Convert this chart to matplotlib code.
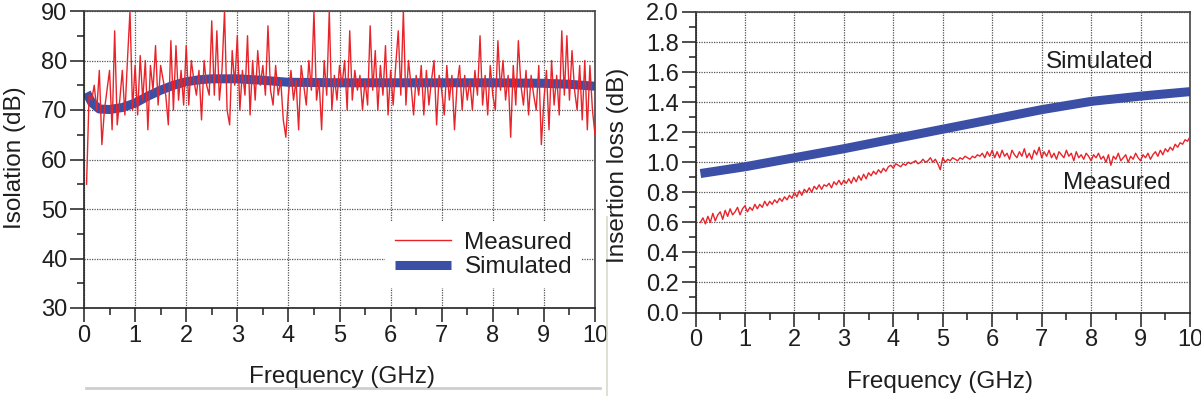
import numpy as np
import matplotlib
matplotlib.use("Agg")
import matplotlib.pyplot as plt
from matplotlib.lines import Line2D
from matplotlib.ticker import MultipleLocator, FormatStrFormatter

plt.rcParams['font.family'] = ['Liberation Sans', 'DejaVu Sans']

# ---------------- data ----------------
# Isolation: measured (every 0.05 GHz from 0.05 to 10 GHz)
iso_freq = np.round(np.arange(1, 201) * 0.05, 2)
iso_measured = [
    55, 73, 72, 75, 70, 78, 63, 70, 74, 78,
    66, 86, 67, 72, 78, 69, 80, 90, 70, 79,
    69, 81, 72, 80, 66, 79, 74, 83, 71, 79,
    76, 73, 67, 84, 70, 83, 72, 78, 71, 83,
    71, 80, 76, 73, 78, 68, 80, 75, 73, 88,
    73, 86, 72, 78, 90, 70, 67, 82, 75, 85,
    70, 78, 73, 85, 69, 80, 72, 82, 75, 79,
    73, 87, 74, 71, 79, 73, 76, 68, 64.5, 73,
    78, 72, 76, 66, 79, 75, 71, 80, 74, 90,
    72, 76, 66, 80, 73, 90, 70, 77, 72, 79,
    75, 80, 70, 86, 72, 78, 74, 77, 70, 76,
    71, 87, 74, 82, 70, 79, 73, 83, 69, 78,
    71, 79, 86, 73, 90, 71, 80, 75, 69, 77,
    73, 79, 69, 78, 71, 76, 80, 67, 77, 74,
    69, 79, 72, 77, 66, 75, 79, 70, 77, 72,
    76, 70, 78, 73, 85, 71, 77, 69, 79, 73,
    70, 84, 74, 80, 72, 77, 64.5, 79, 71, 84,
    75, 71, 78, 69, 77, 73, 70, 79, 63, 72,
    78, 66, 80, 71, 77, 69, 86, 73, 85, 72,
    82, 74, 70, 79, 68, 80, 66, 79, 70, 65,
]
# Isolation: simulated
iso_sim_freq = [0.05, 0.15, 0.3, 0.5, 0.75, 1.0, 1.25, 1.5, 1.75, 2.0, 2.25,
                2.5, 3.0, 3.5, 4.0, 5.0, 6.0, 7.0, 8.0, 9.0, 9.5, 10.0]
iso_simulated = [73.5, 71.5, 70.2, 70.1, 70.5, 71.4, 72.8, 74.0, 75.0, 75.7, 76.1,
                 76.3, 76.3, 76.0, 75.6, 75.5, 75.5, 75.5, 75.5, 75.4, 75.2, 74.8]

# Insertion loss: measured (every 0.05 GHz from 0.10 to 10 GHz)
il_freq = np.round(np.arange(2, 201) * 0.05, 2)
il_measured = [
    0.60, 0.63, 0.59, 0.64, 0.60, 0.66, 0.61, 0.65, 0.67, 0.62, 0.68, 0.64, 0.69, 0.65, 0.67, 0.70, 0.65, 0.69, 0.71, 0.67,
    0.70, 0.68, 0.72, 0.69, 0.72, 0.70, 0.74, 0.71, 0.74, 0.72, 0.75, 0.73, 0.76, 0.74, 0.77, 0.75, 0.78, 0.76, 0.80, 0.77,
    0.81, 0.78, 0.82, 0.80, 0.83, 0.80, 0.84, 0.82, 0.85, 0.82, 0.85, 0.84, 0.86, 0.83, 0.87, 0.85, 0.88, 0.85, 0.88, 0.86,
    0.89, 0.86, 0.90, 0.87, 0.91, 0.88, 0.92, 0.89, 0.93, 0.91, 0.94, 0.92, 0.95, 0.93, 0.96, 0.94, 0.97, 0.98, 0.96, 0.99,
    0.98, 0.97, 0.99, 0.98, 1.00, 0.99, 1.00, 1.01, 0.99, 1.00, 1.02, 1.00, 1.01, 1.03, 1.00, 1.02, 0.99, 0.95, 1.03, 1.00,
    1.02, 1.01, 1.03, 1.02, 1.01, 1.03, 1.02, 1.04, 1.03, 1.02, 1.04, 1.03, 1.05, 1.04, 1.06, 1.03, 1.07, 1.04, 1.08, 1.03,
    1.07, 1.03, 1.08, 1.04, 1.06, 1.02, 1.08, 1.05, 1.03, 1.07, 1.04, 1.09, 1.03, 1.06, 1.02, 1.08, 1.05, 1.10, 1.03, 1.07,
    1.04, 1.08, 1.03, 1.06, 1.02, 1.07, 1.05, 1.03, 1.08, 1.04, 1.06, 1.01, 1.07, 1.03, 1.05, 1.02, 1.06, 1.04, 1.01, 1.05,
    1.03, 1.06, 1.02, 1.04, 1.00, 1.05, 0.98, 1.04, 1.02, 1.06, 1.01, 1.03, 1.05, 1.00, 1.04, 1.02, 1.06, 1.03, 1.01, 1.05,
    1.03, 1.06, 1.02, 1.05, 1.07, 1.04, 1.08, 1.05, 1.09, 1.07, 1.10, 1.08, 1.12, 1.10, 1.13, 1.12, 1.15, 1.14, 1.17,
]
# Insertion loss: simulated
il_sim_freq = [0.1, 1, 2, 3, 4, 5, 6, 7, 8, 9, 10]
il_simulated = [0.925, 0.97, 1.03, 1.09, 1.155, 1.22, 1.285, 1.35, 1.405, 1.44, 1.47]

# ---------------- style ----------------
RED = '#e8242a'
BLUE = '#3b4fa6'
TEXT = '#1e1e1e'
TICK_FS = 17
LABEL_FS = 17.5

W, H = 1201, 396
fig = plt.figure(figsize=(W / 100, H / 100), dpi=100)

def px_axes(l, r, t, b):
    return fig.add_axes([l / W, 1 - b / H, (r - l) / W, (b - t) / H])

ax1 = px_axes(84, 595, 11, 308)
ax2 = px_axes(695.5, 1190, 12, 312.5)

def style(ax):
    ax.grid(True, which='major', color='#555555', linestyle=(0, (1, 1)), linewidth=0.9)
    ax.set_axisbelow(True)
    ax.tick_params(which='major', direction='out', length=10, width=1.1,
                   labelsize=TICK_FS, pad=2, colors=TEXT)
    ax.tick_params(which='minor', direction='out', length=5, width=1.1, colors=TEXT)
    for s in ('left', 'bottom'):
        ax.spines[s].set_color('#222222')
        ax.spines[s].set_linewidth(1.2)
    for s in ('top', 'right'):
        ax.spines[s].set_color('#444444')
        ax.spines[s].set_linewidth(1.2)
    ax.xaxis.set_major_locator(MultipleLocator(1))
    ax.xaxis.set_minor_locator(MultipleLocator(0.5))
    ax.set_xlim(0, 10)

# ----- left: isolation -----
style(ax1)
ax1.plot(iso_sim_freq, iso_simulated, color=BLUE, linewidth=6.5, solid_capstyle='butt',
         label='Simulated', zorder=2)
ax1.plot(iso_freq, iso_measured, color=RED, linewidth=1.0, label='Measured', zorder=3)
ax1.set_ylim(30, 90)
ax1.yaxis.set_major_locator(MultipleLocator(10))
ax1.yaxis.set_minor_locator(MultipleLocator(5))
h, l = ax1.get_legend_handles_labels()
leg = ax1.legend([h[1], h[0]], [l[1], l[0]], loc='upper left',
                 bbox_to_anchor=(0.59, 0.29), fontsize=LABEL_FS,
                 frameon=True, framealpha=1, facecolor='white', edgecolor='none',
                 fancybox=False, borderpad=0.4, borderaxespad=0,
                 handlelength=2.3, handletextpad=0.55, labelspacing=0.1)
for t in leg.get_texts():
    t.set_color(TEXT)

fig.text(342 / W, 1 - 377 / H, 'Frequency (GHz)', fontsize=LABEL_FS,
         ha='center', va='center', color=TEXT)
fig.text(15 / W, 1 - 158 / H, 'Isolation (dB)', fontsize=LABEL_FS, rotation=90,
         ha='center', va='center', color=TEXT)

# ----- right: insertion loss -----
style(ax2)
ax2.plot(il_sim_freq, il_simulated, color=BLUE, linewidth=6.5, solid_capstyle='butt', zorder=2)
ax2.plot(il_freq, il_measured, color=RED, linewidth=1.0, zorder=3)
ax2.set_ylim(0, 2.0)
ax2.yaxis.set_major_locator(MultipleLocator(0.2))
ax2.yaxis.set_minor_locator(MultipleLocator(0.1))
ax2.yaxis.set_major_formatter(FormatStrFormatter('%.1f'))
ax2.text(8.18, 1.667, 'Simulated', fontsize=LABEL_FS, ha='center', va='center', color=TEXT)
ax2.text(8.52, 0.862, 'Measured', fontsize=LABEL_FS, ha='center', va='center', color=TEXT)

fig.text(940 / W, 1 - 382 / H, 'Frequency (GHz)', fontsize=LABEL_FS,
         ha='center', va='center', color=TEXT)
fig.text(618 / W, 1 - 165 / H, 'Insertion loss (dB)', fontsize=LABEL_FS, rotation=90,
         ha='center', va='center', color=TEXT)

# scan-border artefacts of the original figure
fig.add_artist(Line2D([86 / W, 600 / W], [1 - 387.5 / H, 1 - 387.5 / H],
                      color='#cfcfcf', linewidth=2))
fig.add_artist(Line2D([607 / W, 607 / W], [0, 1 - 217 / H],
                      color='#d9d9cc', linewidth=1.2))

fig.savefig('out.png', dpi=100)
